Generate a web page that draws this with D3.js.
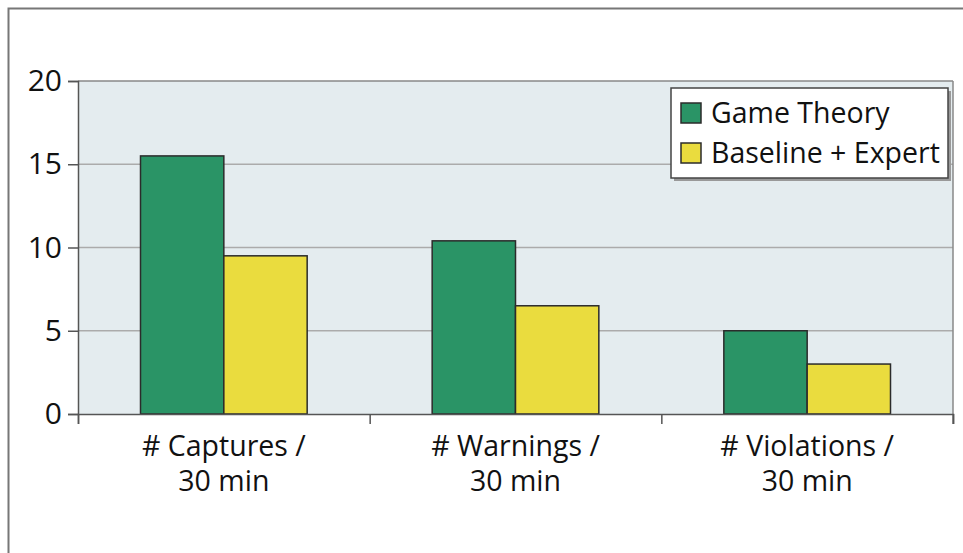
<!DOCTYPE html>
<html><head><meta charset="utf-8">
<script src="https://cdn.jsdelivr.net/npm/d3@7"></script>
<style>body{margin:0;background:#fff}svg{display:block}text{font-family:"Open Sans",Lato,sans-serif;fill:#111}</style>
</head><body><svg id="c" width="963" height="553"></svg>
<script>
const categories = [["# Captures /","30 min"],["# Warnings /","30 min"],["# Violations /","30 min"]];
const seriesNames = ["Game Theory","Baseline + Expert"];
const gameTheory = [15.5, 10.4, 5.0];
const baseline = [9.5, 6.5, 3.0];
const yTicks = [0,5,10,15,20];
const colors = ["#2a9466","#eadc3e"];

const svg = d3.select("#c");
const L=78,R=953,T=81,B=414;
// outer frame
svg.append("rect").attr("x",8.5).attr("y",8.5).attr("width",1000).attr("height",1000)
  .attr("fill","none").attr("stroke","#777").attr("stroke-width",2);

const x = d3.scaleBand().domain(d3.range(categories.length)).range([L,R]).paddingInner(0).paddingOuter(0);
const x1 = d3.scaleBand().domain(d3.range(seriesNames.length)).range([0,x.bandwidth()]).paddingInner(0).paddingOuter(0.75);
const y = d3.scaleLinear().domain([0,20]).range([B,T]);

svg.append("rect").attr("x",L).attr("y",T).attr("width",R-L).attr("height",B-T).attr("fill","#e4ecef");
// grid
svg.selectAll(".g").data(yTicks.filter(d=>d>0&&d<20)).enter().append("line")
  .attr("x1",L).attr("x2",R).attr("y1",d=>y(d)).attr("y2",d=>y(d)).attr("stroke","#ababab").attr("stroke-width",1.5);

const data = [gameTheory, baseline];
data.forEach((vals,s)=>{
  svg.selectAll(".b"+s).data(vals).enter().append("rect")
    .attr("x",(d,i)=>x(i)+x1(s)).attr("width",x1.bandwidth())
    .attr("y",d=>y(d)).attr("height",d=>B-y(d))
    .attr("fill",colors[s]).attr("stroke","#2b2b2b").attr("stroke-width",1.5);
});

// plot border: top, right
svg.append("line").attr("x1",L).attr("x2",R).attr("y1",T).attr("y2",T).attr("stroke","#888").attr("stroke-width",1.5);
svg.append("line").attr("x1",R).attr("x2",R).attr("y1",T).attr("y2",B+10).attr("stroke","#888").attr("stroke-width",1.5);

// y axis
const ya = svg.append("g").attr("transform",`translate(${L},0)`)
  .call(d3.axisLeft(y).tickValues(yTicks).tickSize(10).tickPadding(6));
ya.select(".domain").attr("stroke","#555").attr("stroke-width",1.5);
ya.selectAll(".tick line").attr("stroke","#555").attr("stroke-width",1.5);
ya.selectAll(".tick text").attr("font-size",30).attr("font-family","'Open Sans',Lato,sans-serif").attr("fill","#111");

// x axis
const xa = svg.append("g").attr("transform",`translate(0,${B})`)
  .call(d3.axisBottom(d3.scaleLinear().domain([0,categories.length]).range([L,R])).tickValues(d3.range(categories.length+1)).tickSize(10).tickFormat(""));
xa.select(".domain").attr("stroke","#555").attr("stroke-width",1.5);
xa.selectAll(".tick line").attr("stroke","#555").attr("stroke-width",1.5);

svg.selectAll(".cl").data(categories).enter().append("text")
  .attr("text-anchor","middle").attr("font-size",28.5)
  .attr("transform",(d,i)=>`translate(${x(i)+x.bandwidth()/2},0)`)
  .each(function(d){
    d3.select(this).selectAll("tspan").data(d).enter().append("tspan")
      .attr("x",0).attr("y",(t,j)=>456+j*35).text(t=>t);
  });

// legend
const lg = svg.append("g");
lg.append("rect").attr("x",674).attr("y",91).attr("width",277).attr("height",90).attr("fill","#999");
lg.append("rect").attr("x",671).attr("y",88).attr("width",277).attr("height",90).attr("fill","#fff").attr("stroke","#444").attr("stroke-width",1.5);
seriesNames.forEach((n,i)=>{
  lg.append("rect").attr("x",681).attr("y",103+i*40).attr("width",20).attr("height",20).attr("fill",colors[i]).attr("stroke","#2b2b2b").attr("stroke-width",1.5);
  lg.append("text").attr("x",711).attr("y",123+i*40).attr("font-size",28.5).text(n);
});
</script></body></html>
